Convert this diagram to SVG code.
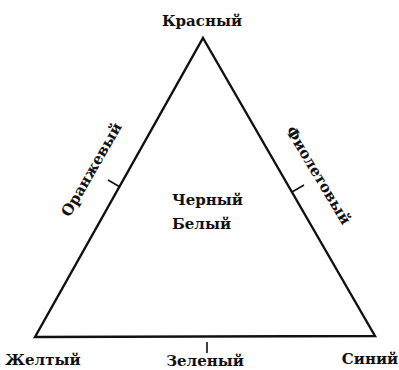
<svg xmlns="http://www.w3.org/2000/svg" width="399" height="370" viewBox="0 0 399 370">
<style>
.t{font-family:"DejaVu Serif","Liberation Serif",serif;font-weight:bold;font-size:15px;fill:#111;}
.l{stroke:#111;stroke-width:2.4;fill:none;stroke-linejoin:miter;}
.k{stroke:#111;stroke-width:1.6;fill:none;}
</style>
<rect width="399" height="370" fill="#fff"/>
<g id="connectors">
<polygon class="l" points="203,38 375,336 35,337"/>
<line class="k" x1="120" y1="187" x2="108" y2="180"/>
<line class="k" x1="292" y1="192" x2="304" y2="185"/>
<line class="k" x1="207" y1="342" x2="207" y2="353"/>
</g>
<g id="red"><text class="t" x="202" y="26" text-anchor="middle">Красный</text></g>
<g id="orange"><text class="t" text-anchor="middle" transform="translate(96,172) rotate(-60)">Оранжевый</text></g>
<g id="violet"><text class="t" text-anchor="middle" transform="translate(314,178) rotate(59)">Фиолетовый</text></g>
<g id="center"><text class="t" x="172" y="205">Черный</text><text class="t" x="172" y="229">Белый</text></g>
<g id="yellow"><text class="t" x="43" y="365" text-anchor="middle">Желтый</text></g>
<g id="green"><text class="t" x="205" y="366" text-anchor="middle">Зеленый</text></g>
<g id="blue"><text class="t" x="370" y="364" text-anchor="middle">Синий</text></g>
</svg>
